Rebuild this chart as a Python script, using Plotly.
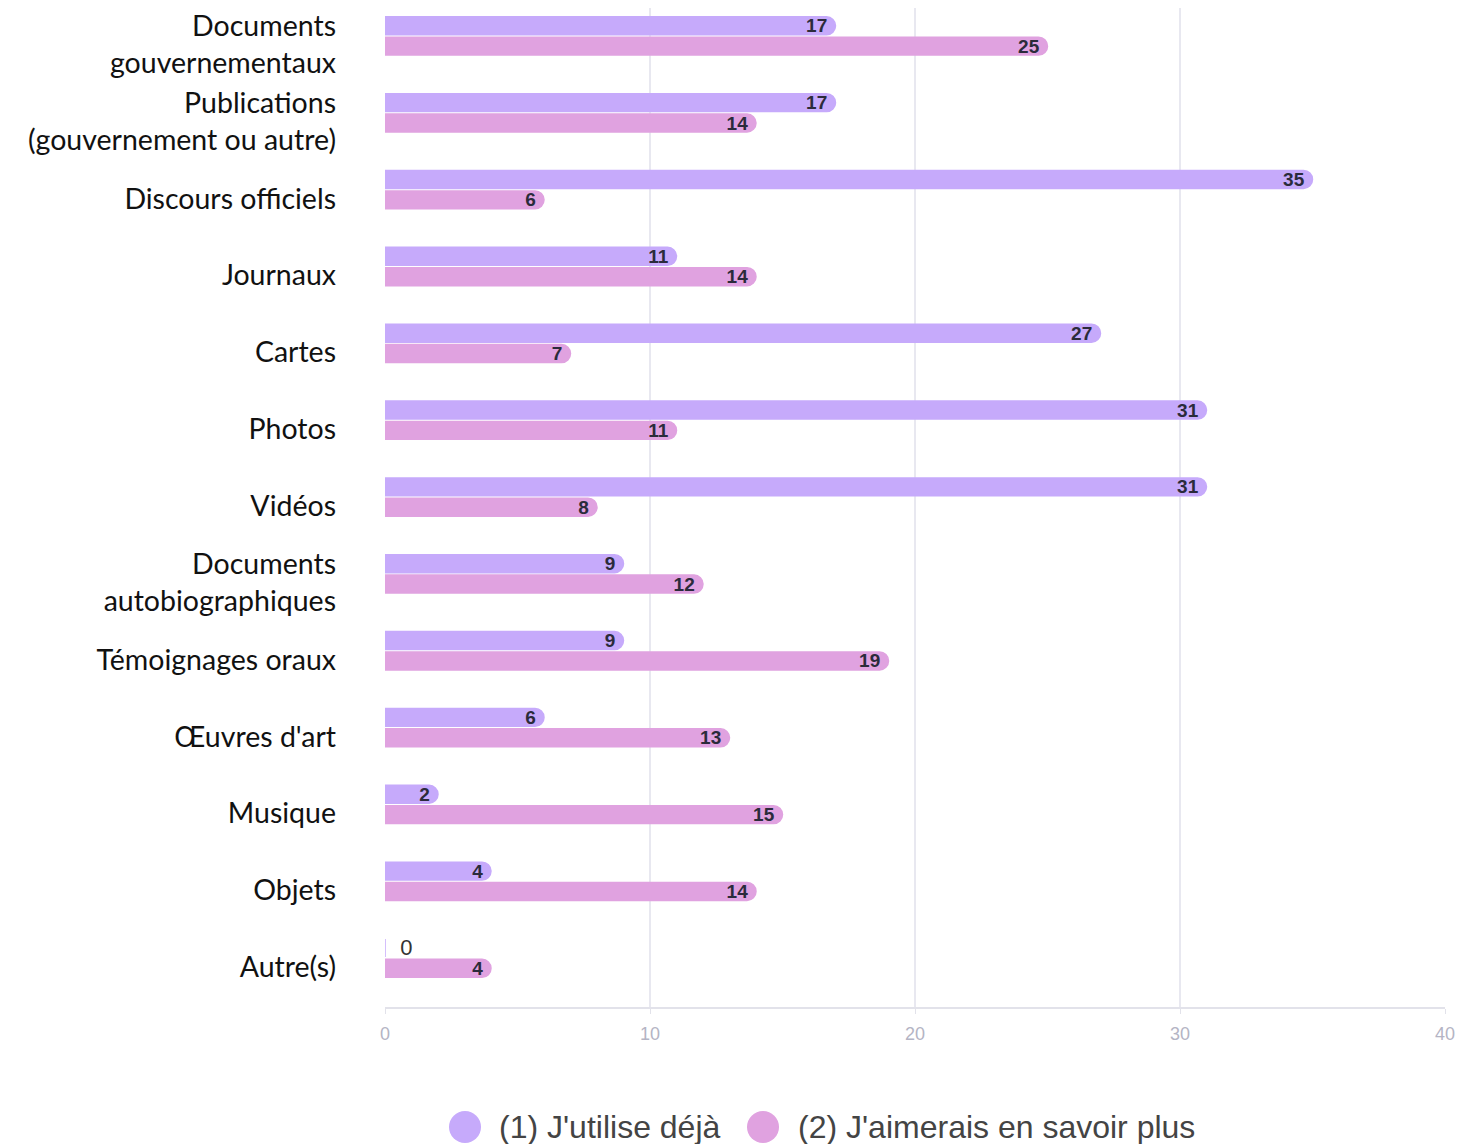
import plotly.graph_objects as go

# Catégories (de haut en bas)
categories = [
    "Documents<br>gouvernementaux",
    "Publications<br>(gouvernement ou autre)",
    "Discours officiels",
    "Journaux",
    "Cartes",
    "Photos",
    "Vidéos",
    "Documents<br>autobiographiques",
    "Témoignages oraux",
    "Œuvres d'art",
    "Musique",
    "Objets",
    "Autre(s)",
]

# (1) J'utilise déjà
deja = [17, 17, 35, 11, 27, 31, 31, 9, 9, 6, 2, 4, 0]
# (2) J'aimerais en savoir plus
plus = [25, 14, 6, 14, 7, 11, 8, 12, 19, 13, 15, 14, 4]

series_names = ["(1) J'utilise déjà", "(2) J'aimerais en savoir plus"]
x_ticks = [0, 10, 20, 30, 40]

purple = "#c6aafb"
pink = "#e0a2e0"

# la page html ajoute une marge de 8 px autour de la figure
W, H = 1475, 1136
L, R, T, B = 377, 38, 0, 137
pw, ph = W - L - R, H - T - B

NB = "\u00a0"

fig = go.Figure()

for grp, vals, name, col in [("a", deja, series_names[0], purple), ("b", plus, series_names[1], pink)]:
    # barres arrondies
    fig.add_trace(
        go.Bar(
            x=vals,
            y=categories,
            orientation="h",
            name=name,
            offsetgroup=grp,
            marker=dict(color=col, line=dict(color=col, width=1.5), cornerradius="50%"),
            hoverinfo="x+name",
            showlegend=False,
        )
    )
    # étiquettes (barres transparentes superposées, sans arrondi pour ne pas réduire le texte)
    fig.add_trace(
        go.Bar(
            x=vals,
            y=categories,
            orientation="h",
            name=name,
            offsetgroup=grp,
            marker=dict(color="rgba(0,0,0,0)", line=dict(width=0), cornerradius=0),
            text=[(NB * 2 + str(v)) if v == 0 else (str(v) + NB) for v in vals],
            textposition=["outside" if v == 0 else "inside" for v in vals],
            insidetextanchor="end",
            constraintext="none",
            cliponaxis=False,
            insidetextfont=dict(family="Liberation Sans", size=19, color="#2b2b3b", weight="bold"),
            outsidetextfont=dict(family="Liberation Sans", size=22, color="#333333"),
            textangle=0,
            hoverinfo="skip",
            showlegend=False,
        )
    )

fig.update_layout(
    width=W,
    height=H,
    margin=dict(l=L, r=R, t=T, b=B, autoexpand=False),
    plot_bgcolor="white",
    paper_bgcolor="white",
    barmode="group",
    bargap=0.47,
    bargroupgap=0.12,
    showlegend=False,
)

fig.update_xaxes(
    range=[0, 40],
    tickvals=x_ticks,
    automargin=False,
    showgrid=True,
    gridcolor="#e8e8f0",
    gridwidth=1.5,
    zeroline=False,
    showline=True,
    linecolor="#e2e2ea",
    linewidth=2,
    ticks="outside",
    ticklen=5,
    tickcolor="#e2e2ea",
    tickfont=dict(family="Liberation Sans", size=18, color="#b4b4c4"),
    ticklabelstandoff=4,
)

fig.update_yaxes(
    type="category",
    categoryorder="array",
    categoryarray=categories,
    range=[12.636, -0.364],
    automargin=False,
    showgrid=False,
    zeroline=False,
    showline=False,
    ticks="",
    ticklabelstandoff=48,
    ticklabelshift=-9,
    tickfont=dict(family="Lato", size=28.5, color="#111111"),
)

# Légende : pastilles rondes + texte (positions en pixels de la page)
legend_items = [
    (series_names[0], purple, 465, 497),
    (series_names[1], pink, 763, 796),
]
cy = 1127 - 8
for name, col, cx, tx in legend_items:
    cx, tx = cx - 8, tx - 8
    fig.add_shape(
        type="circle",
        xref="paper", yref="paper",
        x0=(cx - 16 - L) / pw, x1=(cx + 16 - L) / pw,
        y0=(T + ph - cy - 16) / ph, y1=(T + ph - cy + 16) / ph,
        fillcolor=col, line=dict(width=0),
    )
    fig.add_annotation(
        xref="paper", yref="paper",
        x=(tx - L) / pw, y=(T + ph - cy) / ph,
        xanchor="left", yanchor="middle",
        text=name, showarrow=False,
        font=dict(family="Liberation Sans", size=32, color="#444444"),
    )

fig.write_html("out.html")
